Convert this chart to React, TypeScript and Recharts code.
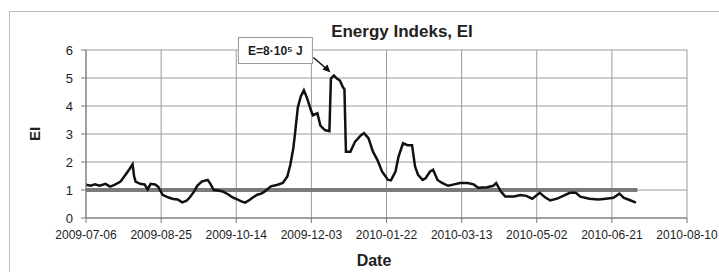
import { LineChart, Line, XAxis, YAxis, CartesianGrid, ReferenceDot } from "recharts";

// days counted from 2009-07-06
const days = [
  0, 3, 6, 9, 13, 16, 19, 23, 25, 27, 29, 31, 32, 33, 36, 39, 41, 43, 46, 48,
  51, 55, 58, 61, 64, 67, 69, 72, 74, 77, 81, 83, 85, 88, 91, 95, 97, 101, 103, 106,
  109, 111, 114, 117, 119, 123, 127, 131, 134, 136, 138, 139, 141, 143, 145, 147, 148, 150, 151, 154,
  156, 159, 162, 163, 165, 167, 169, 171, 172, 173, 176, 179, 183, 185, 188, 191, 194, 197, 201, 203,
  206, 208, 211, 214, 217, 219, 221, 224, 226, 229, 231, 234, 237, 241, 245, 249, 254, 258, 261, 267,
  271, 273, 276, 279, 285, 289, 293, 297, 302, 306, 309, 314, 318, 322, 326, 329, 335, 341, 346, 351,
  355, 358, 361, 366,
];
const eiValues = [
  1.19, 1.15, 1.2, 1.15, 1.22, 1.12, 1.18, 1.3, 1.45, 1.6, 1.75, 1.92, 1.5, 1.3, 1.22, 1.2, 1.02, 1.22, 1.2, 1.12,
  0.83, 0.73, 0.68, 0.66, 0.56, 0.62, 0.73, 0.95, 1.15, 1.3, 1.36, 1.2, 1.0, 0.98, 0.95, 0.83, 0.75, 0.66, 0.6, 0.55,
  0.65, 0.73, 0.83, 0.88, 0.95, 1.13, 1.18, 1.25, 1.48, 1.9, 2.5, 2.96, 3.96, 4.35, 4.56, 4.3, 4.14, 3.8, 3.67, 3.74,
  3.3, 3.14, 3.1, 4.98, 5.09, 4.98, 4.91, 4.67, 4.6, 2.37, 2.37, 2.72, 2.96, 3.03, 2.85, 2.37, 2.07, 1.66, 1.36, 1.35,
  1.66, 2.19, 2.67, 2.6, 2.6, 1.84, 1.54, 1.36, 1.42, 1.66, 1.72, 1.36, 1.25, 1.15, 1.2, 1.25, 1.25, 1.2, 1.08, 1.1,
  1.15, 1.25, 0.95, 0.77, 0.77, 0.82, 0.79, 0.69, 0.9, 0.72, 0.63, 0.7, 0.8, 0.9, 0.9, 0.76, 0.69, 0.66, 0.69, 0.72,
  0.87, 0.72, 0.66, 0.55,
];
const baseDays = [0, 367];
const baseValues = [1, 1];

const tickDays = [0, 50, 100, 150, 200, 250, 300, 350, 400];
const tickLabels = [
  "2009-07-06", "2009-08-25", "2009-10-14", "2009-12-03", "2010-01-22",
  "2010-03-13", "2010-05-02", "2010-06-21", "2010-08-10",
];
const yTicks = [0, 1, 2, 3, 4, 5, 6];

const data = days.map((d, i) => ({ day: d, ei: eiValues[i] }));
const baseData = baseDays.map((d, i) => ({ day: d, base: baseValues[i] }));

const font = "'Liberation Sans', Arial, sans-serif";

// annotation box + arrow pointing at the peak
function Callout(props: any) {
  const { cx, cy } = props;
  if (cx == null || cy == null) return null;
  const tx = cx - 2;
  const ty = cy - 3;
  const sx = cx - 19;
  const sy = cy - 18;
  return (
    <g>
      <line x1={sx} y1={sy} x2={tx - 3} y2={ty - 3} stroke="#111" strokeWidth={1.5} />
      <polygon points={`${tx},${ty} ${tx - 8},${ty - 3} ${tx - 3},${ty - 8}`} fill="#111" />
      <rect x={cx - 94} y={cy - 38} width={74} height={26} fill="#fff" stroke="#999" strokeWidth={1} />
      <text x={cx - 57} y={cy - 20.5} textAnchor="middle" fontSize={12} fontWeight="bold" fontFamily={font} fill="#222">
        E=8·10⁵ J
      </text>
    </g>
  );
}

export default function App() {
  return (
    <div style={{ position: "absolute", left: 0, top: 0, width: 719, height: 272, background: "#fff", overflow: "hidden", fontFamily: font }}>
      <div style={{ position: "absolute", left: 9, top: 11, width: 720, height: 270, borderTop: "1px solid #bbb", borderLeft: "1px solid #bbb" }} />
      <div style={{ position: "absolute", left: 0, width: 804, top: 22, textAlign: "center", fontSize: 17, fontWeight: "bold", color: "#222" }}>
        Energy Indeks, EI
      </div>
      <div style={{ position: "absolute", left: 0, width: 748, top: 252, textAlign: "center", fontSize: 16, fontWeight: "bold", color: "#222" }}>
        Date
      </div>
      <div style={{ position: "absolute", left: 25, top: 124, width: 20, height: 20, transform: "rotate(-90deg)", textAlign: "center", fontSize: 15, fontWeight: "bold", color: "#222", lineHeight: "20px" }}>
        EI
      </div>
      <LineChart width={719} height={272} data={data} margin={{ top: 50, right: 32, left: 26, bottom: 0 }} style={{ position: "absolute", left: 0, top: 0 }}>
        <CartesianGrid stroke="#9a9a9a" strokeWidth={1} verticalPoints={undefined} />
        <XAxis
          type="number"
          dataKey="day"
          domain={[0, 400]}
          ticks={tickDays}
          interval={0}
          tickFormatter={(v: number) => tickLabels[tickDays.indexOf(v)]}
          height={54}
          tickSize={5}
          tickMargin={7}
          stroke="#777"
          tick={{ fontSize: 12, fill: "#222", fontFamily: font }}
          allowDataOverflow
        />
        <YAxis
          domain={[0, 6]}
          ticks={yTicks}
          interval={0}
          width={60}
          tickSize={5}
          tickMargin={8}
          stroke="#777"
          tick={{ fontSize: 13, fill: "#222", fontFamily: font }}
        />
        <Line data={baseData} dataKey="base" type="linear" stroke="#7a7a7a" strokeWidth={4} dot={false} isAnimationActive={false} />
        <Line dataKey="ei" type="linear" stroke="#111" strokeWidth={2.5} dot={false} isAnimationActive={false} />
        <ReferenceDot x={164} y={5.09} r={0} ifOverflow="visible" shape={Callout} />
      </LineChart>
    </div>
  );
}
